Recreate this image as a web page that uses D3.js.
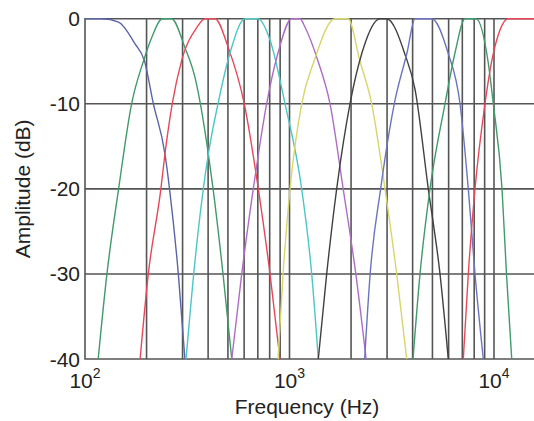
<!DOCTYPE html>
<html>
<head>
<meta charset="utf-8">
<script src="https://cdn.jsdelivr.net/npm/d3@7"></script>
<style>
  html, body { margin: 0; padding: 0; background: #fff; }
  svg { display: block; }
</style>
</head>
<body>
<div id="chart"></div>
<script>
// ---- data (frequency in Hz, amplitude in dB) ----
const xDomain = [100, 16000];
const yDomain = [-40, 0];
const xTickValues = [100, 1000, 10000];
const xTickExponents = ["2", "3", "4"];
const yTickValues = [0, -10, -20, -30, -40];

const band1 = [[100,0],[121,0],[146,-0.4],[176,-3.0],[195,-4.9],[216,-10],[246,-15.9],[259,-20],[286,-30],[308,-40]];
const band2 = [[116,-40],[128,-30],[146,-20],[169,-10],[193,-5],[212,-2.2],[239,0],[265,0],[308,-3.4],[345,-6.9],[401,-15.9],[423,-20],[473,-30],[522,-40]];
const band3 = [[186,-40],[204,-30],[235,-20],[246,-15.9],[267,-10],[297,-4.9],[353,-1],[386,0],[432,0],[502,-3.4],[601,-10],[704,-20],[803,-30],[898,-40]];
const band4 = [[312,-40],[345,-28.5],[401,-15.9],[447,-10],[512,-4],[606,0],[701,0],[803,-2.5],[951,-10],[1147,-20],[1284,-30],[1383,-40]];
const band5 = [[522,-40],[584,-30],[665,-20],[773,-10],[879,-4],[1025,0],[1125,0],[1191,-1],[1379,-5],[1578,-10],[1830,-20],[2110,-30],[2370,-40]];
const band6 = [[879,-40],[930,-30],[1006,-20],[1147,-10],[1318,-5],[1669,0],[1933,0],[2212,-5],[2523,-10],[2931,-20],[3343,-30],[3742,-40]];
const band7 = [[1383,-40],[1520,-30],[1701,-20],[1976,-10],[2262,-4],[2771,0],[2987,0],[3672,-4.2],[4110,-8.3],[4772,-20],[5444,-30],[5977,-40]];
const band8 = [[2330,-40],[2480,-30],[2790,-20],[3254,-10],[3755,-4],[4110,0],[4958,0],[5957,-4],[6820,-10],[7487,-20],[8074,-30],[8865,-40]];
const band9 = [[4018,-40],[4347,-30],[4864,-20],[5760,-10],[6448,-4],[7215,0],[8166,0],[9348,-5],[9922,-10],[10944,-20],[11508,-30],[12210,-40]];
const band10 = [[7078,-40],[7487,-30],[8074,-20],[9036,-10],[9745,-5],[10460,-2],[11750,0],[16000,0]];

const bands = [band1, band2, band3, band4, band5, band6, band7, band8, band9, band10];
const bandColors = ["#5a64a8", "#3f9a6c", "#e8475a", "#4cc6c6", "#b06cc4", "#d6d66a", "#404040", "#6c74c0", "#3f9a6c", "#e8475a"];

// ---- layout ----
const W = 534, H = 421;
const plotLeft = 85, plotTop = 18.7, plotBottom = 359;
const plotRight = plotLeft + 204.5 * Math.log10(xDomain[1] / xDomain[0]);

const svg = d3.select("#chart").append("svg").attr("width", W).attr("height", H);

const x = d3.scaleLog().domain(xDomain).range([plotLeft, plotRight]);
const y = d3.scaleLinear().domain(yDomain).range([plotBottom, plotTop]);

svg.append("defs").append("clipPath").attr("id", "plotclip")
  .append("rect").attr("x", plotLeft).attr("y", plotTop - 1)
  .attr("width", plotRight - plotLeft).attr("height", plotBottom - plotTop + 2);

const gridColor = "#555";

// vertical grid (log ticks)
svg.append("g").selectAll("line")
  .data(x.ticks().filter(v => v > xDomain[0] && v < xDomain[1]))
  .join("line")
  .attr("x1", d => x(d)).attr("x2", d => x(d))
  .attr("y1", plotTop).attr("y2", plotBottom)
  .attr("stroke", gridColor).attr("stroke-width", 1.6);

// horizontal grid
svg.append("g").selectAll("line")
  .data(yTickValues.filter(v => v > yDomain[0] && v < yDomain[1]))
  .join("line")
  .attr("x1", plotLeft).attr("x2", plotRight)
  .attr("y1", d => y(d)).attr("y2", d => y(d))
  .attr("stroke", gridColor).attr("stroke-width", 1.6);

// frame
svg.append("path")
  .attr("d", `M${plotRight},${plotTop}H${plotLeft}V${plotBottom}H${plotRight}`)
  .attr("fill", "none").attr("stroke", gridColor).attr("stroke-width", 1.6);

// curves
const line = d3.line()
  .x(d => x(d[0]))
  .y(d => y(d[1]))
  .curve(d3.curveMonotoneX);

svg.append("g").attr("clip-path", "url(#plotclip)")
  .selectAll("path")
  .data(bands)
  .join("path")
  .attr("d", line)
  .attr("fill", "none")
  .attr("stroke", (d, i) => bandColors[i])
  .attr("stroke-width", 1.4);

// y tick labels
const font = "'Liberation Sans', Arial, Helvetica, sans-serif";
svg.append("g").selectAll("text")
  .data(yTickValues)
  .join("text")
  .attr("x", plotLeft - 5)
  .attr("y", d => y(d))
  .attr("dy", "0.36em")
  .attr("text-anchor", "end")
  .attr("font-family", font)
  .attr("font-size", 21)
  .attr("fill", "#222")
  .text(d => d);

// x tick labels with superscript
const xt = svg.append("g").selectAll("text")
  .data(xTickValues)
  .join("text")
  .attr("x", d => x(d))
  .attr("y", 388)
  .attr("text-anchor", "middle")
  .attr("font-family", font)
  .attr("font-size", 21)
  .attr("fill", "#222");
xt.append("tspan").text("10");
xt.append("tspan")
  .attr("dy", -10)
  .attr("font-size", 14)
  .text((d, i) => xTickExponents[i]);

// axis titles
svg.append("text")
  .attr("x", 307).attr("y", 414)
  .attr("text-anchor", "middle")
  .attr("font-family", font)
  .attr("font-size", 21)
  .attr("fill", "#222")
  .text("Frequency (Hz)");

svg.append("text")
  .attr("transform", `translate(30,${(plotTop + plotBottom) / 2}) rotate(-90)`)
  .attr("text-anchor", "middle")
  .attr("font-family", font)
  .attr("font-size", 21)
  .attr("fill", "#222")
  .text("Amplitude (dB)");
</script>
</body>
</html>
